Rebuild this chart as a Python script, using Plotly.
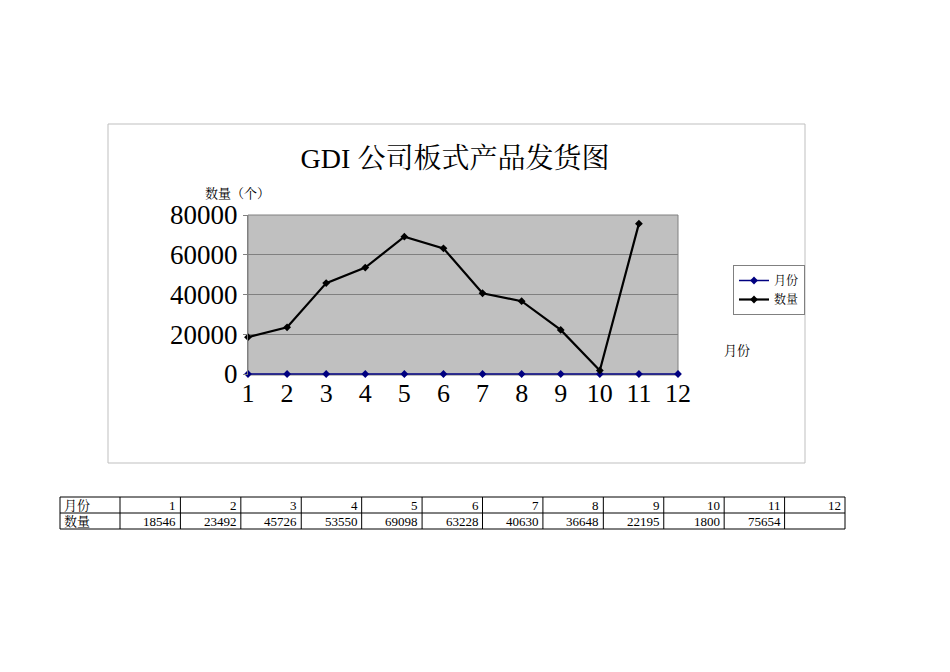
import plotly.graph_objects as go

months = [1, 2, 3, 4, 5, 6, 7, 8, 9, 10, 11, 12]
quantity = [18546, 23492, 45726, 53550, 69098, 63228, 40630, 36648, 22195, 1800, 75654, None]
title_text = "GDI 公司板式产品发货图"
y_title = "数量（个）"
x_title = "月份"
series_names = ["月份", "数量"]

W, H = 950, 672
OFF = 8  # page body margin
def px(x): return (x - OFF) / W
def py(y): return 1 - (y - OFF) / H

serif = "Liberation Serif, Noto Serif CJK SC, Noto Sans CJK SC, serif"

fig = go.Figure()
fig.add_trace(go.Scatter(
    x=months, y=months, name=series_names[0], mode="lines+markers",
    line=dict(color="#000080", width=1.5),
    marker=dict(symbol="diamond", size=6, color="#000080"),
    cliponaxis=False,
))
fig.add_trace(go.Scatter(
    x=months, y=quantity, name=series_names[1], mode="lines+markers",
    line=dict(color="#000000", width=2.2),
    marker=dict(symbol="diamond", size=6, color="#000000"),
    connectgaps=False, cliponaxis=False,
))

# ---- data table below the chart (drawn from the arrays) ----
tbl_left, first_w, col_w = 60, 60, (845 - 120) / 12
row_top, row_h = 497, 16
shapes = []
annotations = []
tbl_right = tbl_left + first_w + col_w * len(months)
for r in range(3):
    yy = row_top + r * row_h
    shapes.append(dict(type="line", xref="paper", yref="paper",
                       x0=px(tbl_left), x1=px(tbl_right), y0=py(yy), y1=py(yy),
                       line=dict(color="#000000", width=1)))
xs = [tbl_left, tbl_left + first_w] + [tbl_left + first_w + col_w * (i + 1) for i in range(len(months))]
for xx in xs:
    shapes.append(dict(type="line", xref="paper", yref="paper",
                       x0=px(xx), x1=px(xx), y0=py(row_top), y1=py(row_top + 2 * row_h),
                       line=dict(color="#000000", width=1)))
tfont = dict(family=serif, size=13, color="#000000")
for r, label in enumerate(series_names):
    annotations.append(dict(text=label, x=px(tbl_left + 2), y=py(row_top + r * row_h + row_h / 2),
                            xref="paper", yref="paper", xanchor="left", yanchor="middle",
                            showarrow=False, font=tfont))
for i, m in enumerate(months):
    xr = tbl_left + first_w + col_w * (i + 1) - 2
    annotations.append(dict(text=str(m), x=px(xr), y=py(row_top + row_h / 2),
                            xref="paper", yref="paper", xanchor="right", yanchor="middle",
                            showarrow=False, font=tfont))
    q = quantity[i]
    if q is not None:
        annotations.append(dict(text=str(q), x=px(xr), y=py(row_top + row_h * 1.5),
                                xref="paper", yref="paper", xanchor="right", yanchor="middle",
                                showarrow=False, font=tfont))

# ---- chart frames ----
shapes.append(dict(type="rect", xref="paper", yref="paper",
                   x0=px(108), x1=px(805), y0=py(463), y1=py(124),
                   line=dict(color="#BFBFBF", width=1), layer="below"))
shapes.append(dict(type="rect", xref="paper", yref="paper",
                   x0=px(248), x1=px(678), y0=py(375), y1=py(215),
                   line=dict(color="#808080", width=1), layer="below"))

annotations += [
    dict(text=y_title, x=px(237), y=py(193), xref="paper", yref="paper",
         xanchor="center", yanchor="middle",
         showarrow=False, font=dict(family=serif, size=13, color="#000000")),
    dict(text=x_title, x=px(737), y=py(350), xref="paper", yref="paper",
         xanchor="center", yanchor="middle",
         showarrow=False, font=dict(family=serif, size=13, color="#000000")),
]

fig.update_layout(
    template="none",
    width=W, height=H,
    margin=dict(l=0, r=0, t=0, b=0, pad=0, autoexpand=False),
    paper_bgcolor="white",
    plot_bgcolor="#C0C0C0",
    showlegend=True,
    legend=dict(x=px(733), y=py(265), xanchor="left", yanchor="top",
                bgcolor="white", bordercolor="#808080", borderwidth=1,
                font=dict(family=serif, size=12, color="#000000"),
                tracegroupgap=0, itemwidth=30),
    title=dict(text=title_text, x=px(455), xanchor="center", y=py(158), yanchor="middle",
               font=dict(family=serif, size=28, color="#000000"), automargin=False),
    xaxis=dict(domain=[px(248), px(678)], range=[1, 12], tickmode="array",
               tickvals=months, ticktext=[str(m) for m in months],
               showgrid=False, zeroline=False, showline=False, automargin=False,
               ticks="", tickfont=dict(family=serif, size=26, color="#000000")),
    yaxis=dict(domain=[py(375), py(215)], range=[-500, 80000], tickvals=[0, 20000, 40000, 60000, 80000],
               tickformat="d", automargin=False,
               showgrid=True, gridcolor="#808080", gridwidth=1,
               zeroline=False, showline=True, linecolor="#808080", linewidth=1,
               ticks="outside", ticklen=4, tickcolor="#808080",
               tickfont=dict(family=serif, size=27, color="#000000")),
    shapes=shapes,
    annotations=annotations,
)

fig.write_html("out.html")
